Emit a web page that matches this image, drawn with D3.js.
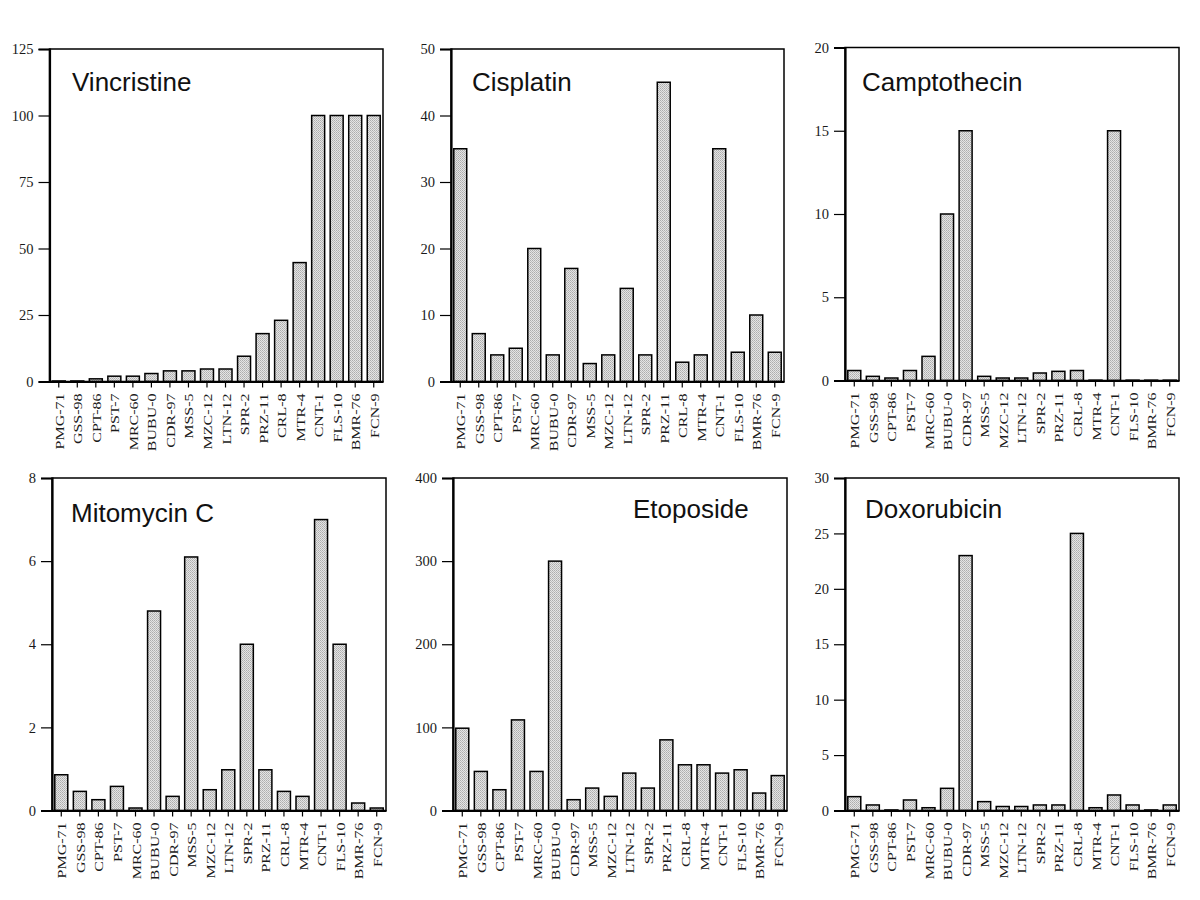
<!DOCTYPE html>
<html>
<head>
<meta charset="utf-8">
<script src="https://cdn.jsdelivr.net/npm/d3@7"></script>
<style>
  html, body { margin: 0; padding: 0; background: #fff; }
  svg { display: block; }
</style>
</head>
<body>
<svg id="chart" width="1200" height="900"></svg>
<script>
const categories = ["PMG-71","GSS-98","CPT-86","PST-7","MRC-60","BUBU-0","CDR-97","MSS-5","MZC-12","LTN-12","SPR-2","PRZ-11","CRL-8","MTR-4","CNT-1","FLS-10","BMR-76","FCN-9"];

const vincristine  = [0.2, 0.2, 1, 2, 2, 3, 4, 4, 4.7, 4.7, 9.5, 18, 23, 44.7, 100, 100, 100, 100];
const cisplatin    = [35, 7.2, 4, 5, 20, 4, 17, 2.7, 4, 14, 4, 45, 2.9, 4, 35, 4.4, 10, 4.4];
const camptothecin = [0.6, 0.25, 0.15, 0.6, 1.45, 10, 15, 0.25, 0.15, 0.15, 0.45, 0.55, 0.6, 0.02, 15, 0.02, 0.02, 0.02];
const mitomycinC   = [0.86, 0.46, 0.26, 0.58, 0.06, 4.8, 0.34, 6.1, 0.5, 0.98, 4, 0.98, 0.46, 0.34, 7, 4, 0.18, 0.06];
const etoposide    = [99, 47, 25, 109, 47, 300, 13, 27, 17, 45, 27, 85, 55, 55, 45, 49, 21, 42];
const doxorubicin  = [1.25, 0.5, 0.05, 0.95, 0.25, 2, 23, 0.8, 0.36, 0.36, 0.5, 0.5, 25, 0.25, 1.4, 0.5, 0.05, 0.5];

const titles = ["Vincristine", "Cisplatin", "Camptothecin", "Mitomycin C", "Etoposide", "Doxorubicin"];
const yMaxes = [125, 50, 20, 8, 400, 30];
const yTicks = [
  [0, 25, 50, 75, 100, 125],
  [0, 10, 20, 30, 40, 50],
  [0, 5, 10, 15, 20],
  [0, 2, 4, 6, 8],
  [0, 100, 200, 300, 400],
  [0, 5, 10, 15, 20, 25, 30]
];
const seriesList = [vincristine, cisplatin, camptothecin, mitomycinC, etoposide, doxorubicin];

// layout (frame boxes) and title positions
const frames = [
  {l: 49.5, r: 383, t: 49, b: 381.5},
  {l: 451, r: 784, t: 49, b: 381.5},
  {l: 845, r: 1179, t: 47.5, b: 380.5},
  {l: 52, r: 386, t: 478, b: 810.5},
  {l: 453, r: 787, t: 478, b: 810.5},
  {l: 845, r: 1179, t: 478, b: 810.5}
];
const titlePos = [
  {x: 72, y: 91}, {x: 472, y: 91}, {x: 862, y: 91},
  {x: 71, y: 522}, {x: 633, y: 518}, {x: 865, y: 518}
];

const svg = d3.select("#chart");
const defs = svg.append("defs");
const pat = defs.append("pattern")
  .attr("id", "hatch").attr("patternUnits", "userSpaceOnUse")
  .attr("width", 2).attr("height", 2);
pat.append("rect").attr("width", 2).attr("height", 2).attr("fill", "#e4e4e4");
pat.append("rect").attr("x", 0).attr("y", 0).attr("width", 1).attr("height", 1).attr("fill", "#adadad");
pat.append("rect").attr("x", 1).attr("y", 1).attr("width", 1).attr("height", 1).attr("fill", "#bcbcbc");

seriesList.forEach((vals, i) => {
  const f = frames[i];
  const g = svg.append("g");
  const x = d3.scaleBand().domain(categories).range([f.l, f.r]).paddingInner(0.3).paddingOuter(0.15);
  const y = d3.scaleLinear().domain([0, yMaxes[i]]).range([f.b, f.t]);

  // bars
  g.selectAll("rect.bar").data(vals).join("rect")
    .attr("class", "bar")
    .attr("x", (d, j) => x(categories[j]))
    .attr("width", x.bandwidth())
    .attr("y", d => y(d))
    .attr("height", d => Math.max(0.8, y(0) - y(d)))
    .attr("fill", "url(#hatch)")
    .attr("stroke", "#000")
    .attr("stroke-width", 1.5);

  // frame (top/right thinner)
  g.append("rect")
    .attr("x", f.l).attr("y", f.t)
    .attr("width", f.r - f.l).attr("height", f.b - f.t)
    .attr("fill", "none").attr("stroke", "#000").attr("stroke-width", 1.5);

  // y axis
  const yAxis = d3.axisLeft(y).tickValues(yTicks[i]).tickSize(11).tickPadding(5).tickFormat(d3.format("d"));
  const ya = g.append("g").attr("transform", `translate(${f.l},0)`).call(yAxis);
  ya.select(".domain").attr("stroke-width", 2.2);
  ya.selectAll(".tick line").attr("stroke-width", 1.2);
  ya.selectAll("text")
    .attr("font-family", "'Liberation Serif', 'Times New Roman', serif")
    .attr("font-size", 14.5).attr("fill", "#1a1a1a");

  // x axis
  const xAxis = d3.axisBottom(x).tickSize(6).tickSizeOuter(0);
  const xa = g.append("g").attr("transform", `translate(0,${f.b})`).call(xAxis);
  xa.select(".domain").attr("stroke-width", 2.2);
  xa.selectAll(".tick line").attr("stroke-width", 1.2);
  xa.selectAll("text")
    .attr("font-family", "'Liberation Serif', 'Times New Roman', serif")
    .attr("font-size", 16).attr("fill", "#1a1a1a")
    .attr("text-anchor", "end")
    .attr("dy", null).attr("y", 0)
    .attr("transform", "translate(5,12) rotate(-90) scale(1,0.78)");

  // title
  g.append("text")
    .attr("x", titlePos[i].x).attr("y", titlePos[i].y)
    .attr("font-family", "'Liberation Sans', Arial, sans-serif")
    .attr("font-size", 26).attr("fill", "#111")
    .text(titles[i]);
});
</script>
</body>
</html>
